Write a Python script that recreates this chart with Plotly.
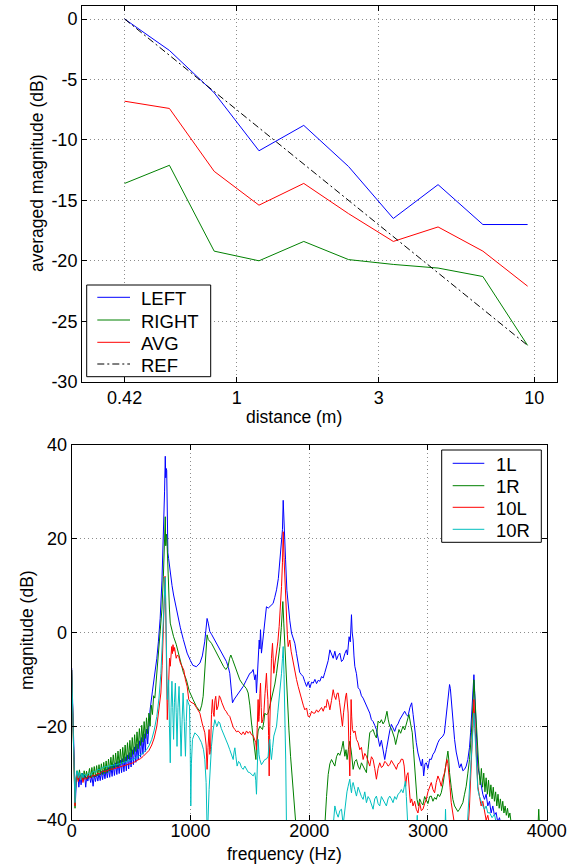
import plotly.graph_objects as go

# ---------------- top panel: averaged magnitude vs. distance ----------------
distance_m = [0.42, 0.594, 0.84, 1.188, 1.68, 2.376, 3.36, 4.75, 6.72, 9.5]
left_db = [0.0, -2.6, -6.1, -10.9, -8.8, -12.2, -16.5, -13.7, -17.0, -17.0]
right_db = [-13.6, -12.1, -19.2, -20.0, -18.4, -19.9, -20.3, -20.6, -21.3, -27.0]
avg_db = [-6.8, -7.4, -12.6, -15.4, -13.6, -16.1, -18.4, -17.2, -19.2, -22.1]
ref_db = [0.0, -3.0, -6.0, -9.0, -12.0, -15.0, -18.0, -21.0, -24.0, -27.0]

dist_ticks = [0.42, 1, 3, 10]
dist_ticktext = ["0.42", "1", "3", "10"]
avg_ticks = [-30, -25, -20, -15, -10, -5, 0]
avg_ticktext = ["-30", "-25", "-20", "-15", "-10", "-5", "0"]

# ---------------- bottom panel: magnitude spectra ----------------
f_1L = [0, 8, 14, 22, 31, 40, 51, 60, 70, 79, 90, 100, 108, 118, 126, 136, 145,
        150, 160, 170, 180, 190, 200, 210, 220, 230, 240, 250, 260, 270, 280, 290, 300,
        310, 320, 330, 340, 350, 360, 370, 380, 390, 400, 410, 420, 430, 440, 450, 460,
        470, 480, 490, 500, 510, 520, 530, 540, 550, 560, 570, 580, 590, 600, 610, 620,
        630, 640, 650,
        660, 680, 700, 717, 730, 745, 760, 772, 782, 788, 792, 796, 800, 804, 810, 816,
        830, 845, 858, 880, 900, 915, 940, 972, 1000, 1020, 1050, 1080, 1100, 1120, 1130,
        1140, 1150, 1163, 1180, 1205, 1225, 1247, 1275, 1303, 1320, 1331, 1345, 1354, 1370,
        1388, 1410, 1444, 1470, 1500, 1515, 1528, 1542, 1550, 1556, 1565, 1572, 1579, 1585,
        1590, 1598, 1608, 1618, 1628, 1640, 1655, 1668, 1682, 1696, 1710, 1725, 1740, 1753,
        1765, 1775, 1781, 1788, 1795, 1801, 1812, 1823, 1837, 1851, 1865, 1879, 1893, 1907,
        1920, 1935, 1949, 1963, 1978, 1992, 2006, 2020, 2034, 2048, 2062, 2076, 2090, 2104,
        2118, 2132, 2146, 2160, 2174, 2188, 2202, 2216, 2230, 2244, 2258, 2272, 2286, 2300,
        2314, 2322, 2330, 2336, 2346, 2352, 2356, 2362, 2370, 2377, 2384, 2398, 2412, 2426,
        2440, 2454, 2468, 2482, 2496, 2510, 2524, 2538, 2552, 2566, 2580, 2594, 2608, 2622,
        2636, 2650, 2664, 2678, 2692, 2706, 2720, 2734, 2748, 2762, 2776, 2790, 2804, 2818,
        2832, 2848, 2863, 2875, 2888, 2902, 2916, 2930, 2944, 2954, 2964, 2975, 2986, 3000,
        3014, 3028, 3042, 3056, 3070, 3084, 3098, 3112, 3126, 3138, 3148, 3158, 3168, 3175,
        3182, 3189, 3196, 3210, 3224, 3238, 3252, 3266, 3280, 3294, 3308, 3322, 3336, 3350,
        3359, 3370, 3378, 3387, 3394, 3401, 3410, 3420, 3434, 3448, 3462, 3476, 3490, 3504,
        3518, 3532, 3546, 3560, 3574, 3588, 3602, 3616, 3640, 3658, 3700, 4000]
m_1L = [-7.6, -16, -23, -33, -36.3, -31, -29.9, -33, -30.5, -32.5, -30, -31.5, -30.2, -33, -30.8, -31.7, -30.5,
        -30.6, -32.0, -30.5, -32.8, -30.4, -31.8, -30.2, -31.7, -30.0, -31.6, -29.6, -31.4, -29.4, -31.2, -29.1, -31.0,
        -28.8, -30.9, -28.5, -30.7, -28.1, -30.5, -27.8, -30.3, -27.5, -30.1, -27.2, -29.9, -26.9, -29.7, -26.5, -29.5,
        -26.1, -29.1, -25.6, -28.7, -25.0, -28.2, -24.4, -27.7, -23.8, -27.2, -23.1, -26.6, -22.4, -26.0, -21.6, -25.4,
        -20.6, -23.8, -18.8,
        -16.5, -12.5, -9.0, -5.5, -2.0, 3.0, 11.0, 20.0, 30.0, 37.6, 33.0, 35.0, 34.6, 26.0, 17.0, 15.8,
        12.5, 10.0, 8.0, 5.0, 2.5, 1.0, -1.5, -4.4, -6.0, -7.0, -7.3, -6.5, -5.0, -2.0, 0.5,
        3.0, 2.0, 0.2, -0.5, -1.6, -2.5, -3.7, -5.0, -6.2, -7.5, -8.7, -12.5, -15.0, -14.2,
        -13.6, -12.8, -11.5, -10.2, -8.7, -8.5, -7.9, -10.1, -9.0, -12.9, -8.0, -4.0, -1.6, -3.5,
        0.6, -4.4, -2.0, -0.9, 3.0, 5.5, 5.2, 5.5, 5.8, 6.2, 7.5, 9.1, 11.5, 14.8,
        18.0, 22.0, 28.2, 22.0, 17.0, 15.5, 9.0, 5.5, 2.5, -0.1, -1.5, -2.3, -4.5, -6.5,
        -8.5, -9.0, -9.4, -10.5, -11.5, -10.5, -11.8, -10.6, -10.8, -10.0, -10.9, -10.2, -10.4, -9.4,
        -9.7, -8.5, -7.2, -6.0, -3.7, -4.5, -5.5, -4.0, -5.8, -4.9, -4.4, -6.2, -5.8, -4.5,
        -3.7, -4.8, -1.5, -0.9, -2.0, 1.0, 3.8, 0.0, -1.6, -5.0, -7.2, -8.8, -11.8, -12.2,
        -13.5, -14.0, -14.8, -15.5, -16.5, -17.2, -18.6, -19.0, -19.8, -20.7, -22.5, -24.3, -23.0, -25.5,
        -27.1, -25.0, -22.8, -21.0, -19.6, -20.5, -21.1, -20.0, -19.5, -18.6, -18.0, -17.5, -16.8, -17.5,
        -17.9, -16.0, -15.0, -17.5, -20.7, -23.5, -25.7, -27.5, -28.5, -27.0, -30.6, -28.0, -27.8, -29.0,
        -27.0, -27.1, -26.0, -25.5, -24.3, -23.5, -22.8, -22.5, -22.1, -21.5, -19.3, -17.0, -14.3, -12.0,
        -11.1, -12.0, -14.3, -18.5, -22.8, -25.5, -27.5, -28.9, -28.0, -29.5, -29.2, -28.5, -27.1, -24.5,
        -21.4, -17.0, -14.3, -9.0, -13.0, -17.2, -23.0, -28.5, -30.5, -32.8, -34.5, -35.6, -34.5, -37.0,
        -36.0, -38.5, -37.0, -39.0, -38.4, -40.5, -39.5, -41.0, -40.5, -42.0, -44.0, -50.0]

f_1R = [0, 8, 14, 22, 28, 35, 45, 55, 65, 75, 85, 95, 105, 115, 125, 135, 145,
        150, 160, 170, 180, 190, 200, 210, 220, 230, 240, 250, 260, 270, 280, 290, 300,
        310, 320, 330, 340, 350, 360, 370, 380, 390, 400, 410, 420, 430, 440, 450, 460,
        470, 480, 490, 500, 510, 520, 530, 540, 550, 560, 570, 580, 590, 600, 610, 620,
        630, 640, 650, 660, 670, 680, 690, 700,
        717, 730, 745, 760, 772, 782, 788, 792, 796, 800, 804, 810, 816, 823, 830, 844,
        858, 880, 900, 915, 940, 966, 990, 1022, 1050, 1079, 1095, 1107, 1120, 1129, 1140,
        1150, 1163, 1177, 1198, 1219, 1240, 1261, 1280, 1298, 1310, 1317, 1330, 1340, 1355,
        1374, 1395, 1416, 1437, 1458, 1472, 1486, 1500, 1514, 1528, 1540, 1551, 1556, 1562,
        1570, 1584, 1596, 1607, 1618, 1626, 1640, 1654, 1670, 1684, 1697, 1711, 1725, 1740,
        1753, 1765, 1772, 1778, 1786, 1795, 1806, 1817, 1830, 1843, 1855, 1865, 1878, 1888,
        1900, 2100, 2132, 2146, 2160, 2174, 2188, 2202, 2216, 2230, 2244, 2258, 2272, 2286,
        2300, 2310, 2319, 2330, 2342, 2356, 2370, 2384, 2398, 2412, 2426, 2440, 2454, 2468,
        2482, 2496, 2510, 2524, 2538, 2552, 2566, 2580, 2594, 2608, 2622, 2636, 2645, 2655,
        2665, 2678, 2692, 2706, 2718, 2728, 2742, 2756, 2770, 2790, 2804, 2818, 2830, 2840,
        2854, 2868, 2878, 2888, 2898, 2908, 2920, 2930, 2944, 2958, 2972, 2986, 3000, 3014,
        3028, 3042, 3056, 3070, 3084, 3098, 3112, 3126, 3140, 3154, 3168, 3175, 3182, 3196,
        3210, 3224, 3238, 3252, 3266, 3280, 3294, 3308, 3322, 3336, 3350, 3362, 3373, 3380,
        3387, 3394, 3401, 3410, 3420, 3430, 3440, 3450, 3460, 3470, 3480, 3490, 3500, 3510,
        3520, 3530, 3540, 3550, 3560, 3570, 3580, 3590, 3600, 3610, 3620, 3630, 3640, 3650,
        3660, 3670, 3680, 3690, 3700, 3720, 3760, 3920, 3933, 3946, 4000]
m_1R = [-8.0, -16, -24, -34, -37.5, -32, -29.5, -31.5, -29.3, -31.0, -30.0, -31.5, -29.5, -31.0, -29.6, -31.2, -29.4,
        -29.0, -31.0, -28.8, -30.9, -28.6, -30.8, -28.4, -30.6, -28.2, -30.4, -28.0, -30.3, -27.7, -30.1, -27.4, -29.9,
        -27.0, -29.6, -26.6, -29.3, -26.1, -29.0, -25.7, -28.7, -25.3, -28.4, -24.9, -28.1, -24.5, -27.8, -24.0, -27.4,
        -23.5, -27.0, -23.0, -26.6, -22.4, -26.0, -21.8, -25.4, -21.2, -24.8, -20.5, -24.1, -19.8, -23.4, -19.0, -22.6,
        -18.2, -21.6, -17.2, -20.0, -15.5, -17.5, -13.5, -14.0,
        -8.7, -4.5, 0.0, 5.0, 12.0, 20.0, 24.7, 18.5, 21.0, 20.4, 18.3, 13.0, 9.8, 5.0, 2.0, 0.5,
        -0.9, -2.5, -4.5, -5.8, -8.5, -10.1, -12.5, -14.3, -15.8, -16.8, -15.5, -13.6, -9.0, -5.8, -0.5,
        -1.5, -1.8, -2.3, -3.3, -4.4, -5.5, -6.5, -7.3, -7.9, -7.5, -7.2, -5.5, -4.8, -5.8,
        -7.2, -8.8, -10.1, -10.9, -11.5, -12.0, -12.9, -15.5, -19.3, -22.1, -24.0, -27.1, -24.5, -22.8,
        -21.0, -20.0, -20.5, -20.7, -19.0, -17.2, -17.6, -17.2, -15.5, -14.0, -12.9, -11.0, -8.7, -5.5,
        -3.0, 1.0, 4.0, 6.6, 2.0, -3.0, -9.5, -15.7, -21.0, -26.4, -30.5, -34.2, -38.0, -41.0,
        -45.0, -48.0, -41.0, -35.0, -30.3, -28.0, -27.1, -27.8, -28.5, -26.5, -25.7, -26.2, -25.0, -23.2,
        -26.4, -25.0, -27.1, -25.0, -23.2, -25.7, -29.2, -27.5, -27.1, -28.5, -29.2, -27.8, -28.5, -29.0,
        -29.9, -25.0, -21.4, -21.0, -20.7, -21.8, -22.5, -18.9, -19.3, -18.6, -19.5, -18.9, -17.5, -16.8,
        -18.5, -20.0, -20.5, -21.4, -22.5, -23.9, -22.0, -20.7, -21.5, -20.0, -20.8, -19.6, -18.5, -17.5,
        -19.5, -21.4, -25.0, -29.2, -32.5, -35.6, -37.0, -35.5, -36.3, -36.8, -35.0, -35.6, -36.5, -35.0,
        -34.9, -36.0, -35.2, -35.6, -34.5, -35.0, -34.2, -32.5, -29.9, -27.5, -25.3, -27.0, -29.9, -33.0,
        -35.6, -37.0, -37.7, -38.2, -37.7, -37.0, -36.3, -34.5, -32.8, -30.0, -27.1, -23.0, -19.3, -15.0,
        -10.1, -13.5, -17.2, -22.0, -27.1, -29.5, -32.5, -29.0, -33.0, -30.0, -34.0, -31.0, -34.5, -31.5,
        -35.0, -32.5, -35.5, -33.0, -36.0, -34.0, -37.0, -34.5, -37.5, -35.5, -38.0, -36.0, -38.5, -37.0,
        -39.0, -37.5, -39.5, -38.5, -40.5, -41.0, -43.0, -45.0, -37.7, -45.0, -46.0]

f_10L = [0, 8, 14, 22, 28, 35, 45, 55, 65, 75, 85, 95, 105, 122, 140, 160, 180, 200, 220, 235,
         260, 290, 320, 350, 377, 410, 440, 470, 500, 518, 550, 580, 603, 630, 650, 674, 695, 717,
         735, 751, 762, 773, 780, 786, 790, 795, 800, 805, 810, 818, 824, 830, 836, 842, 848, 853,
         860, 866, 873, 880, 890, 901, 915, 929, 944, 958, 972, 986, 1000, 1014, 1030, 1050, 1079,
         1100, 1121, 1132, 1140, 1148, 1157, 1163, 1169, 1177, 1185, 1192, 1199, 1206, 1213, 1222,
         1233, 1243, 1253, 1265, 1277, 1289, 1300, 1315, 1331, 1345, 1360, 1374, 1388, 1402, 1416,
         1430, 1444, 1458, 1472, 1486, 1500, 1514, 1528, 1542, 1550, 1556, 1563, 1570, 1575, 1579,
         1585, 1590, 1596, 1601, 1610, 1618, 1628, 1635, 1640, 1646, 1652, 1658, 1663, 1668, 1674,
         1682, 1691, 1696, 1702, 1712, 1725, 1736, 1747, 1757, 1767, 1775, 1781, 1788, 1795, 1802,
         1809, 1816, 1823, 1830, 1837, 1848, 1860, 1870, 1879, 1893, 1907, 1921, 1935, 1950, 1963,
         1978, 1991, 2006, 2020, 2034, 2048, 2062, 2076, 2090, 2104, 2118, 2132, 2142, 2152, 2162,
         2174, 2188, 2202, 2212, 2224, 2234, 2244, 2256, 2266, 2280, 2290, 2300, 2308, 2314, 2320,
         2328, 2335, 2342, 2348, 2353, 2358, 2364, 2375, 2386, 2398, 2412, 2426, 2440, 2454, 2468,
         2482, 2496, 2510, 2524, 2538, 2552, 2566, 2580, 2594, 2608, 2622, 2636, 2650, 2664, 2678,
         2692, 2706, 2720, 2734, 2748, 2762, 2776, 2790, 2800, 2812, 2822, 2832, 2842, 2852, 2863,
         2874, 2888, 2902, 2916, 2930, 2944, 2958, 2972, 2986, 3000, 3014, 3028, 3042, 3056, 3070,
         3084, 3098, 3112, 3126, 3140, 3150, 3160, 3168, 3176, 3186, 3196, 3210, 3224, 3240, 3330,
         3350, 3365, 3378, 3387, 3394, 3401, 3410, 3420, 3434, 3448, 3462, 3476, 3490, 3504, 3518,
         3540, 4000]
m_10L = [-8.0, -17, -25, -34.5, -37, -31.5, -30.0, -31.8, -30.6, -31.5, -30.5, -32.0, -31.0, -31.3, -30.6, -31.0, -30.4, -30.6, -30.0, -30.2,
         -29.6, -29.6, -29.2, -29.1, -28.9, -28.6, -28.3, -28.1, -27.9, -27.8, -27.3, -26.9, -26.4, -25.8, -25.2, -24.0, -22.5, -20.0,
         -16.5, -12.9, -7.0, 2.0, 8.0, 12.0, 8.0, -2.0, -12.0, -18.6, -15.0, -8.5, -5.5, -7.2, -4.0, -3.0, -4.5, -2.6,
         -4.0, -3.2, -4.4, -5.5, -4.8, -5.1, -6.5, -7.2, -8.0, -10.1, -11.5, -14.3, -14.8, -15.0, -15.2, -16.0, -17.2,
         -19.5, -21.4, -24.0, -29.2, -24.5, -20.7, -26.0, -25.0, -17.5, -14.3, -17.0, -17.9, -14.5, -13.6, -16.5,
         -15.7, -13.5, -14.0, -15.0, -15.8, -16.5, -16.8, -17.5, -17.9, -19.0, -20.2, -20.7, -21.2, -21.0, -21.4,
         -21.8, -21.2, -21.8, -21.0, -21.5, -21.1, -21.8, -22.0, -22.8, -23.5, -25.0, -20.0, -14.3, -19.0, -17.9,
         -13.0, -10.8, -16.0, -19.3, -18.5, -17.2, -13.0, -9.5, -8.7, -12.0, -14.3, -22.0, -30.6, -20.0, -8.7,
         -5.5, -2.3, -5.0, -8.7, -6.5, -4.4, -2.0, 1.3, 5.0, 9.8, 15.0, 21.5, 16.0, 11.2, 6.0,
         2.7, -0.5, -3.0, -2.0, -1.6, -4.0, -5.8, -7.0, -8.7, -10.0, -11.5, -13.0, -14.3, -15.5, -16.5,
         -16.1, -17.9, -17.9, -16.8, -17.2, -17.2, -16.5, -17.0, -16.5, -16.0, -16.8, -15.7, -16.0, -14.3, -15.0,
         -16.5, -14.5, -12.2, -13.5, -14.3, -13.0, -12.9, -15.0, -17.2, -20.0, -17.0, -14.3, -13.5, -12.9, -14.5,
         -17.2, -25.0, -30.6, -22.0, -14.3, -18.0, -20.7, -21.4, -21.0, -22.8, -23.5, -25.0, -24.5, -27.1, -25.8,
         -26.4, -27.5, -28.5, -26.5, -27.1, -29.0, -31.3, -29.0, -27.8, -28.8, -28.5, -27.5, -27.8, -28.5, -28.2,
         -27.3, -27.8, -28.5, -29.2, -28.0, -27.8, -27.0, -27.1, -28.5, -32.8, -30.5, -29.9, -33.0, -36.3, -35.5,
         -37.0, -36.0, -37.7, -38.5, -36.3, -38.0, -37.7, -36.5, -35.6, -34.0, -33.0, -32.0, -33.5, -34.2, -32.0,
         -30.6, -31.5, -32.8, -31.0, -29.9, -28.5, -27.1, -28.0, -29.9, -33.0, -36.3, -38.5, -41.0, -45.0, -45.0,
         -37.0, -27.0, -20.0, -14.3, -18.5, -22.8, -28.0, -32.8, -35.0, -37.0, -36.0, -38.5, -40.0, -39.0, -41.0,
         -44.0, -48.0]

f_10R = [0, 8, 14, 22, 28, 35, 45, 55, 65, 75, 85, 95, 105, 122, 140, 160, 180, 200, 220, 235,
         260, 290, 320, 350, 377, 410, 440, 470, 500, 518, 550, 580, 603, 630, 650, 674, 695, 717,
         735, 751, 762, 773, 782, 788, 792, 797, 801, 805, 810, 816, 823, 830, 837, 844, 851, 858,
         865, 873, 880, 887, 895, 904, 912, 921, 930, 938, 948, 958, 965, 972, 982, 992, 998, 1003,
         1008, 1017, 1037, 1065, 1093, 1110, 1121, 1132, 1140, 1148, 1157, 1167, 1177, 1190, 1205,
         1215, 1225, 1236, 1247, 1260, 1275, 1290, 1303, 1317, 1331, 1345, 1360, 1367, 1374, 1383,
         1393, 1405, 1416, 1430, 1444, 1458, 1472, 1486, 1500, 1514, 1528, 1542, 1550, 1556, 1563,
         1570, 1577, 1584, 1598, 1612, 1626, 1640, 1654, 1661, 1668, 1675, 1682, 1692, 1702, 1714,
         1725, 1736, 1747, 1757, 1767, 1775, 1781, 1788, 1795, 1802, 1809, 1820, 2180, 2200, 2216,
         2230, 2244, 2258, 2272, 2286, 2297, 2308, 2318, 2328, 2342, 2349, 2356, 2363, 2370, 2384,
         2398, 2412, 2426, 2440, 2454, 2468, 2482, 2496, 2510, 2524, 2538, 2552, 2566, 2580, 2594,
         2608, 2622, 2636, 2650, 2664, 2678, 2692, 2706, 2720, 2734, 2748, 2762, 2776, 2790, 2800,
         2810, 2818, 2826, 2840, 2900, 2910, 2920, 3140, 3148, 3156, 3320, 3335, 3350, 3362, 3373,
         3387, 3394, 3401, 3410, 3420, 3434, 3448, 3462, 3476, 3490, 3504, 3518, 3540, 3560, 3574,
         3600, 4000]
m_10R = [-8.0, -18, -26, -34, -36.3, -31.0, -29.5, -31.0, -29.9, -31.5, -30.0, -31.0, -30.2, -30.6, -30.0, -30.4, -29.6, -29.8, -29.2, -29.2,
         -28.8, -28.6, -28.4, -28.3, -28.2, -27.9, -27.6, -27.4, -27.2, -27.1, -26.6, -26.2, -25.7, -25.0, -24.2, -22.8, -20.8, -17.9,
         -14.0, -8.7, -2.0, 5.5, 10.0, 11.8, 6.0, -1.6, -8.0, -14.3, -12.0, -10.1, -20.0, -27.8, -16.0, -10.4, -16.0, -22.8,
         -15.0, -10.8, -17.0, -24.3, -16.0, -11.5, -18.0, -26.4, -18.5, -12.9, -19.0, -26.4, -19.0, -14.3, -15.0, -15.7, -25.0, -37.0,
         -28.0, -22.8, -21.4, -22.1, -23.5, -25.0, -27.1, -32.0, -42.0, -40.0, -33.5, -28.0, -24.3, -21.0, -18.6,
         -19.5, -20.0, -19.0, -19.3, -20.5, -21.4, -22.0, -22.8, -24.0, -25.0, -26.0, -27.1, -25.5, -24.6, -26.5,
         -28.5, -27.5, -27.8, -28.8, -29.2, -28.5, -29.2, -29.8, -29.9, -30.2, -30.6, -29.9, -31.5, -34.5, -28.0,
         -22.8, -26.0, -27.1, -28.2, -27.5, -27.1, -27.0, -26.4, -24.0, -22.8, -25.5, -27.1, -24.5, -22.1, -21.0,
         -20.0, -17.0, -14.3, -11.5, -8.7, -5.5, -3.0, -9.0, -15.7, -27.0, -42.0, -48.0, -48.0, -41.0, -37.0,
         -38.5, -39.4, -38.0, -37.7, -41.0, -38.0, -35.6, -34.0, -32.8, -31.3, -33.0, -34.2, -32.5, -32.0, -33.5,
         -34.9, -33.0, -34.2, -35.0, -35.6, -34.0, -36.3, -35.0, -35.6, -36.5, -37.7, -35.5, -34.9, -36.5, -37.0,
         -35.0, -35.6, -36.5, -37.0, -35.5, -34.9, -35.5, -36.3, -35.0, -35.6, -34.5, -34.2, -33.5, -34.2, -33.0,
         -31.7, -35.0, -42.0, -46.0, -46.0, -39.0, -46.0, -46.0, -37.7, -46.0, -46.0, -40.0, -33.5, -28.0, -22.8,
         -17.2, -20.5, -24.3, -29.0, -33.5, -35.0, -36.3, -37.0, -37.7, -37.0, -38.5, -38.4, -39.5, -38.8, -40.5,
         -44.0, -48.0]

freq_ticks = [0, 1000, 2000, 3000, 4000]
mag_ticks = [-40, -20, 0, 20, 40]

FONT = "Liberation Sans, Arial, Helvetica, sans-serif"
BLUE, GREEN, RED, CYAN = "#0000ff", "#008000", "#ff0000", "#00bfbf"
DASHDOT = "7px,3px,2px,3px"
W, H = 568, 867

top_series = [("LEFT", left_db, BLUE, "solid"),
              ("RIGHT", right_db, GREEN, "solid"),
              ("AVG", avg_db, RED, "solid"),
              ("REF", ref_db, "#000000", DASHDOT)]
bottom_series = [("1L", f_1L, m_1L, BLUE),
                 ("1R", f_1R, m_1R, GREEN),
                 ("10L", f_10L, m_10L, RED),
                 ("10R", f_10R, m_10R, CYAN)]

fig = go.Figure()
for name, vals, color, dash in top_series:
    fig.add_trace(go.Scatter(x=distance_m, y=vals, name=name, mode="lines",
                             line=dict(color=color, width=1, dash=dash),
                             xaxis="x", yaxis="y", showlegend=False))
for name, fx, my, color in bottom_series:
    fig.add_trace(go.Scatter(x=fx, y=my, name=name, mode="lines",
                             line=dict(color=color, width=1),
                             xaxis="x2", yaxis="y2", showlegend=False))


def px_x(v):
    return v / W


def px_y(v):
    return 1 - v / H


# boxed legends drawn in paper space, one row per series
shapes, annotations = [], []


def legend_box(x0, x1, y0, y1, rows, line_x0, line_x1, text_x):
    shapes.append(dict(type="rect", xref="paper", yref="paper",
                       x0=px_x(x0), x1=px_x(x1), y0=px_y(y1), y1=px_y(y0),
                       fillcolor="white", line=dict(color="black", width=1)))
    for (label, color, dash), ry in rows:
        shapes.append(dict(type="line", xref="paper", yref="paper",
                           x0=px_x(line_x0), x1=px_x(line_x1), y0=px_y(ry), y1=px_y(ry),
                           line=dict(color=color, width=1, dash=dash)))
        annotations.append(dict(text=label, x=px_x(text_x), y=px_y(ry + 1),
                                xref="paper", yref="paper", xanchor="left", yanchor="middle",
                                showarrow=False, font=dict(family=FONT, size=18.5, color="black")))


legend_box(86.7, 210.7, 285, 376.7,
           [((n, c, d), ry) for (n, _, c, d), ry in zip(top_series, [297.3, 320, 342.3, 364])],
           97.3, 130, 139)
legend_box(441.7, 541.3, 450, 542.3,
           [((n, c, "solid"), ry) for (n, _, _, c), ry in zip(bottom_series, [463.3, 485.7, 507.3, 529.3])],
           452.7, 484.3, 494)

axis_titles = [("distance (m)", 293.7, 417, 0),
               ("frequency (Hz)", 284, 854, 0),
               ("averaged magnitude (dB)", 37, 174, -90),
               ("magnitude (dB)", 27, 630, -90)]
for text, ax_, ay_, ang in axis_titles:
    annotations.append(dict(text=text, x=px_x(ax_), y=px_y(ay_), xref="paper", yref="paper",
                            xanchor="center", yanchor="middle", textangle=ang,
                            showarrow=False, font=dict(family=FONT, size=17.5, color="black")))

axis_common = dict(showline=True, linecolor="black", linewidth=1, mirror="ticks",
                   ticks="inside", ticklen=5, tickcolor="black", zeroline=False,
                   showgrid=True, gridcolor="#8c8c8c", griddash="1px,3px", gridwidth=1,
                   automargin=False,
                   tickfont=dict(family=FONT, size=18, color="black"))

fig.update_layout(
    width=W, height=H,
    autosize=False,
    margin=dict(l=0, r=0, t=0, b=0, pad=0, autoexpand=False),
    paper_bgcolor="white", plot_bgcolor="white",
    font=dict(family=FONT, size=18, color="black"),
    xaxis=dict(domain=[px_x(82), px_x(556.7)], anchor="y", type="log",
               range=[-0.52, 1.0755], tickvals=dist_ticks, ticktext=dist_ticktext,
               **axis_common),
    yaxis=dict(domain=[px_y(381.7), px_y(6)], anchor="x",
               range=[-30, 1.075], tickvals=avg_ticks, ticktext=avg_ticktext,
               **axis_common),
    xaxis2=dict(domain=[px_x(71.7), px_x(546.7)], anchor="y2",
                range=[0, 4000], tickvals=freq_ticks, ticklabelstandoff=-6,
                **axis_common),
    yaxis2=dict(domain=[px_y(820), px_y(445)], anchor="x2",
                range=[-40, 40], tickvals=mag_ticks, **axis_common),
    showlegend=False,
    shapes=shapes,
    annotations=annotations,
)

fig.write_html("out.html")
